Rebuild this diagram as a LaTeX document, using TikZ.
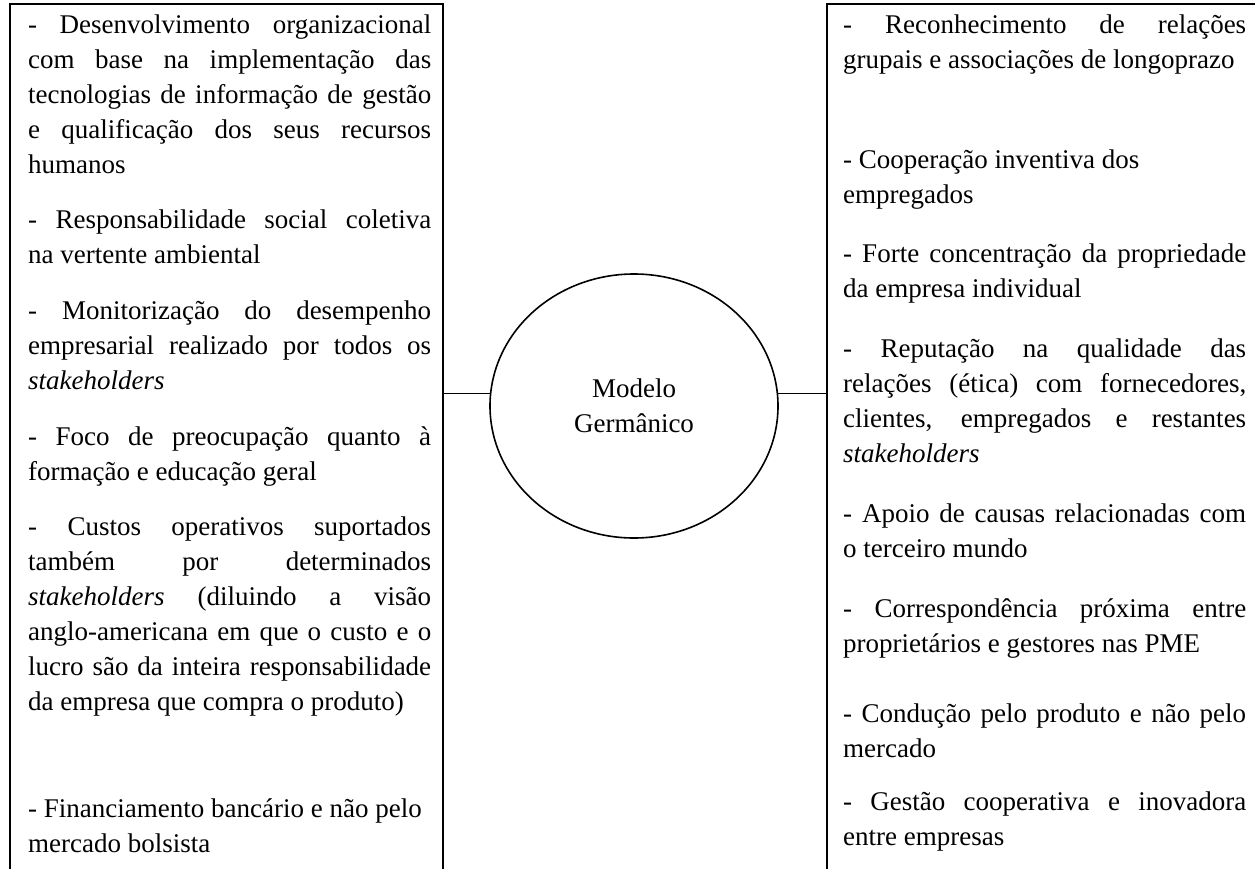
\documentclass[tikz,border=0pt]{standalone}
\usepackage{fontspec}
\setmainfont{Liberation Serif}
\usetikzlibrary{shapes.geometric}
\newlength{\colw}
\setlength{\colw}{403pt}
\newcommand{\jline}[1]{\makebox[\colw][s]{\spaceskip=0pt\relax #1}}

\begin{document}
\begin{tikzpicture}[x=1pt, y=-1pt,
  every node/.style={font=\fontsize{27}{35}\selectfont},
  panel/.style={draw, line width=1.6pt, anchor=north west, inner sep=0pt},
  item/.style={anchor=base west, text width=\colw, align=justify, inner sep=0pt},
  model/.style={draw, ellipse, line width=1.6pt, minimum width=288pt, minimum height=264pt, align=center},
  link/.style={line width=1.6pt}]
\useasboundingbox (0,0) rectangle (1255,868);
% boxes
\node[panel, minimum width=433pt, minimum height=900pt] (lpanel) at (9,3) {};
\node[panel, minimum width=440pt, minimum height=900pt] (rpanel) at (826,3) {};
\node[model] (model) at (634,406) {Modelo\\Germânico};
% left column
\node[item] (l1) at (28,33) {\jline{- Desenvolvimento organizacional}\\\jline{com base na implementação das}\\\jline{tecnologias de informação de gestão}\\\jline{e qualificação dos seus recursos}\\humanos};
\node[item] (l2) at (28,228) {\jline{- Responsabilidade social coletiva}\\na vertente ambiental};
\node[item] (l3) at (28,319) {\jline{- Monitorização do desempenho}\\\jline{empresarial realizado por todos os}\\\textit{stakeholders}};
\node[item] (l4) at (28,445) {\jline{- Foco de preocupação quanto à}\\formação e educação geral};
\node[item] (l5) at (28,535) {\jline{- Custos operativos suportados}\\\jline{também por determinados}\\\jline{\textit{stakeholders} (diluindo a visão}\\\jline{anglo-americana em que o custo e o}\\\jline{lucro são da inteira responsabilidade}\\da empresa que compra o produto)};
\node[item] (l6) at (28,817) {- Financiamento bancário e não pelo\\mercado bolsista};
% right column
\node[item] (r1) at (843,33) {\jline{- Reconhecimento de relações}\\grupais e associações de longoprazo};
\node[item] (r2) at (843,168) {- Cooperação inventiva dos\\empregados};
\node[item] (r3) at (843,262) {\jline{- Forte concentração da propriedade}\\da empresa individual};
\node[item] (r4) at (843,357) {\jline{- Reputação na qualidade das}\\\jline{relações (ética) com fornecedores,}\\\jline{clientes, empregados e restantes}\\\textit{stakeholders}};
\node[item] (r5) at (843,522) {\jline{- Apoio de causas relacionadas com}\\o terceiro mundo};
\node[item] (r6) at (843,617) {\jline{- Correspondência próxima entre}\\proprietários e gestores nas PME};
\node[item] (r7) at (843,722) {\jline{- Condução pelo produto e não pelo}\\mercado};
\node[item] (r8) at (843,810) {\jline{- Gestão cooperativa e inovadora}\\entre empresas};
% connectors
\draw[link] (model.175) -- (model.175 -| lpanel.east);
\draw[link] (model.5) -- (model.5 -| rpanel.west);
\end{tikzpicture}
\end{document}
